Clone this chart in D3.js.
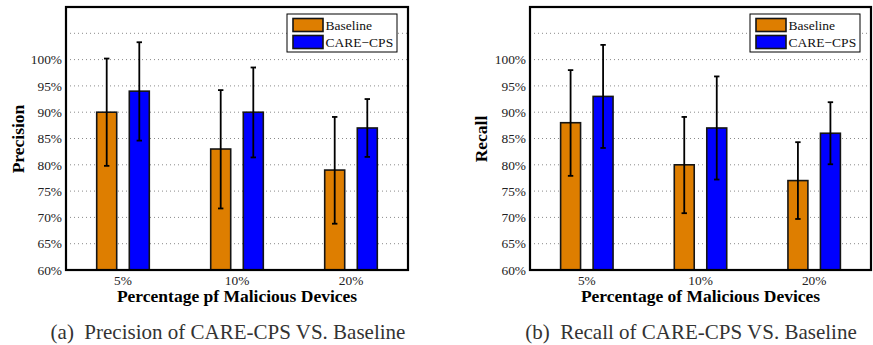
<!DOCTYPE html>
<html><head><meta charset="utf-8">
<script src="https://cdn.jsdelivr.net/npm/d3@7"></script>
<style>body{margin:0;background:#fff}svg{display:block}text{font-family:"Liberation Serif","Times New Roman",serif}</style>
</head><body><svg id="c" width="873" height="345"></svg>
<script>
const categories = ["5%", "10%", "20%"];
const seriesNames = ["Baseline", "CARE\u2212CPS"];
const yTicks = [60, 65, 70, 75, 80, 85, 90, 95, 100];
const gridTicks = [65, 70, 75, 80, 85, 90, 95, 100, 105];

const precisionBaseline = [90, 83, 79];
const precisionCare = [94, 90, 87];
const precisionBaselineLow = [79.8, 71.7, 68.8];
const precisionBaselineHigh = [100.2, 94.2, 89.1];
const precisionCareLow = [84.6, 81.4, 81.5];
const precisionCareHigh = [103.3, 98.5, 92.5];

const recallBaseline = [88, 80, 77];
const recallCare = [93, 87, 86];
const recallBaselineLow = [77.9, 70.8, 69.7];
const recallBaselineHigh = [98.0, 89.1, 84.3];
const recallCareLow = [83.2, 77.2, 80.1];
const recallCareHigh = [102.8, 96.8, 91.9];

const colors = ["#de7e00", "#0000ff"];
const svg = d3.select("#c");

function panel(o) {
  const g = svg.append("g");
  const y = d3.scaleLinear().domain([60, 110]).range([270, 7]);
  const x = d3.scaleBand().domain(categories).range([o.x0, o.x1]);
  const bw = x.bandwidth();
  const xs = d3.scaleBand().domain(seriesNames)
    .range([bw * 0.2693, bw * 0.7307]).paddingInner(0.3865);

  // grid
  g.append("g").selectAll("line").data(gridTicks).join("line")
    .attr("x1", o.x0).attr("x2", o.x1)
    .attr("y1", d => y(d)).attr("y2", d => y(d))
    .attr("stroke", "#8a8a8a").attr("stroke-width", 1)
    .attr("stroke-dasharray", "1,3");

  const vals = [o.base, o.care];
  const lows = [o.baseLow, o.careLow];
  const highs = [o.baseHigh, o.careHigh];
  seriesNames.forEach((s, si) => {
    const gs = g.append("g");
    gs.selectAll("rect").data(categories).join("rect")
      .attr("x", c => x(c) + xs(s))
      .attr("width", xs.bandwidth())
      .attr("y", (c, i) => y(vals[si][i]))
      .attr("height", (c, i) => y(60) - y(vals[si][i]))
      .attr("fill", colors[si]).attr("stroke", "#151515").attr("stroke-width", 1.6);
  });
  seriesNames.forEach((s, si) => {
    categories.forEach((c, i) => {
      const cx = x(c) + xs(s) + xs.bandwidth() / 2;
      const e = g.append("g").attr("stroke", "#000").attr("stroke-width", 1.8);
      e.append("line").attr("x1", cx).attr("x2", cx).attr("y1", y(lows[si][i])).attr("y2", y(highs[si][i]));
      e.append("line").attr("x1", cx - 2.7).attr("x2", cx + 2.7).attr("y1", y(lows[si][i])).attr("y2", y(lows[si][i]));
      e.append("line").attr("x1", cx - 2.7).attr("x2", cx + 2.7).attr("y1", y(highs[si][i])).attr("y2", y(highs[si][i]));
    });
  });

  // frame
  g.append("rect").attr("x", o.x0).attr("y", y(110)).attr("width", o.x1 - o.x0).attr("height", y(60) - y(110))
    .attr("fill", "none").attr("stroke", "#000").attr("stroke-width", 2.2);

  // y axis labels
  const ya = d3.axisLeft(y).tickValues(yTicks).tickFormat(d => d + "%").tickSize(0).tickPadding(4);
  const yg = g.append("g").attr("transform", `translate(${o.x0},0)`).call(ya);
  yg.select(".domain").remove();
  yg.selectAll("text").attr("font-size", 13.4).attr("fill", "#222");

  const xa = d3.axisBottom(x).tickSize(0).tickPadding(5);
  const xg = g.append("g").attr("transform", `translate(0,${y(60)})`).call(xa);
  xg.select(".domain").remove();
  xg.selectAll("text").attr("font-size", 13.4).attr("fill", "#222").attr("y", 14.5).attr("dy", null);

  // axis titles
  g.append("text").attr("x", (o.x0 + o.x1) / 2).attr("y", 302).attr("text-anchor", "middle")
    .attr("font-size", 17.5).attr("font-weight", "bold").text(o.xTitle);
  g.append("text").attr("transform", `translate(${o.yLabelX},139) rotate(-90)`)
    .attr("text-anchor", "middle").attr("dominant-baseline", "central")
    .attr("font-size", 17.5).attr("font-weight", "bold").text(o.yTitle);
  g.append("text").attr("x", o.capX).attr("y", 338.5).attr("text-anchor", "middle")
    .attr("font-size", 21).attr("fill", "#333").attr("xml:space", "preserve").text(o.caption);

  // legend
  const lx = o.x1 - 121, ly = 14;
  const lg = g.append("g");
  lg.append("rect").attr("x", lx).attr("y", ly).attr("width", 110).attr("height", 38)
    .attr("fill", "#fff").attr("stroke", "#000").attr("stroke-width", 1);
  seriesNames.forEach((s, si) => {
    lg.append("rect").attr("x", lx + 6).attr("y", ly + 4.5 + si * 17).attr("width", 30).attr("height", 13)
      .attr("fill", colors[si]).attr("stroke", "#151515").attr("stroke-width", 1.6);
    lg.append("text").attr("x", lx + 38.5).attr("y", ly + 11 + si * 17).attr("dominant-baseline", "central")
      .attr("font-size", 13.5).attr("fill", "#111").text(s);
  });
}

panel({x0: 66, x1: 408, base: precisionBaseline, care: precisionCare,
  baseLow: precisionBaselineLow, baseHigh: precisionBaselineHigh,
  careLow: precisionCareLow, careHigh: precisionCareHigh,
  xTitle: "Percentage pf Malicious Devices", yTitle: "Precision", yLabelX: 18,
  caption: "(a)  Precision of CARE-CPS VS. Baseline", capX: 228});
panel({x0: 530, x1: 871, base: recallBaseline, care: recallCare,
  baseLow: recallBaselineLow, baseHigh: recallBaselineHigh,
  careLow: recallCareLow, careHigh: recallCareHigh,
  xTitle: "Percentage of Malicious Devices", yTitle: "Recall", yLabelX: 481,
  caption: "(b)  Recall of CARE-CPS VS. Baseline", capX: 691});
</script></body></html>
